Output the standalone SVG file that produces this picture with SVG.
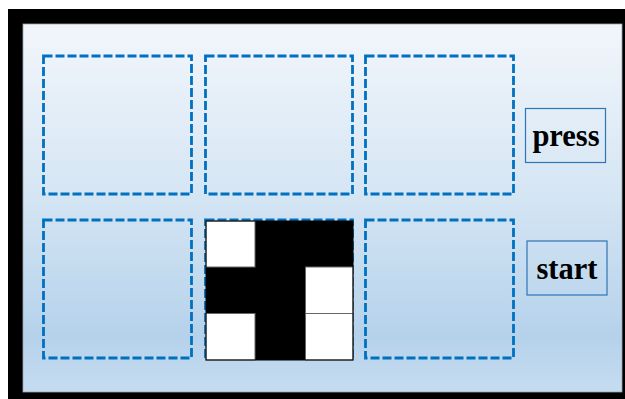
<svg xmlns="http://www.w3.org/2000/svg" width="625" height="399" viewBox="0 0 625 399">
<defs>
<linearGradient id="bg" x1="0" y1="0" x2="0" y2="1">
<stop offset="0" stop-color="#f2f6fb"/>
<stop offset="0.45" stop-color="#d6e6f4"/>
<stop offset="0.85" stop-color="#b5d2eb"/>
<stop offset="1" stop-color="#c6dcf0"/>
</linearGradient>
<style>
.slot{fill:none;stroke:#0070c0;stroke-width:2.8;stroke-dasharray:9 3}
.btn{fill:none;stroke:#2e75b6;stroke-width:1.2}
.lbl{font-family:"Liberation Serif",serif;font-weight:bold;font-size:30.5px;fill:#000;text-anchor:middle}
.w{fill:#fff;stroke:#666;stroke-width:1}
.b{fill:#000}
</style>
</defs>
<rect x="0" y="0" width="625" height="399" fill="#fff"/>
<rect x="8" y="9" width="617" height="390" fill="#000"/>
<rect x="23" y="24" width="599" height="368" fill="url(#bg)" stroke="#9aa6b2" stroke-width="0.8"/>
<g id="slot1"><rect class="slot" x="43.5" y="56" width="148" height="138"/></g>
<g id="slot2"><rect class="slot" x="205.5" y="56" width="147" height="138"/></g>
<g id="slot3"><rect class="slot" x="365.5" y="56" width="148" height="138"/></g>
<g id="slot4"><rect class="slot" x="43.5" y="220" width="148" height="138"/></g>
<g id="slot5"><rect class="slot" x="205.5" y="220" width="147" height="138"/></g>
<g id="slot6"><rect class="slot" x="365.5" y="220" width="148" height="138"/></g>
<g id="grid">
<rect class="b" x="206" y="221" width="147" height="139"/>
<rect class="w" x="206" y="221" width="49" height="46"/>
<rect class="w" x="305.5" y="267" width="47.5" height="46.5"/>
<rect class="w" x="206" y="313.5" width="49" height="46.5"/>
<rect class="w" x="305.5" y="313.5" width="47.5" height="46.5"/>
<rect x="206" y="221" width="147" height="139" fill="none" stroke="#000" stroke-width="1"/>
</g>
<g id="press">
<rect class="btn" x="525.5" y="108.5" width="80" height="54"/>
<text class="lbl" x="566" y="145.5">press</text>
</g>
<g id="start">
<rect class="btn" x="527" y="241" width="80" height="54"/>
<text class="lbl" x="567" y="278.5">start</text>
</g>
<g id="connectors"></g>
</svg>
